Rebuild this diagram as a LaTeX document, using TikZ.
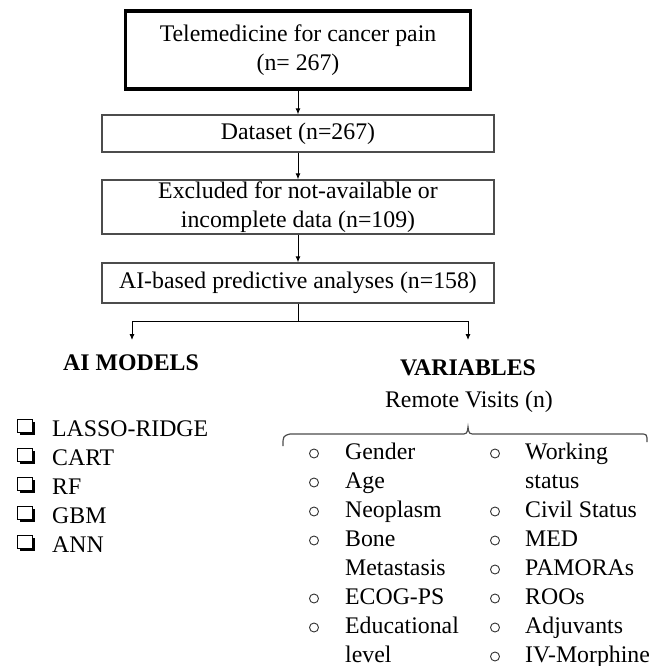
\documentclass[tikz,border=0pt]{standalone}
\usepackage{fontspec}
\setmainfont{Liberation Serif}
\usepackage{tikz}
\usetikzlibrary{arrows.meta,shadows}
\newcommand{\bodysize}{\fontsize{23.8}{29}\selectfont}

\begin{document}
\begin{tikzpicture}[
    x=1pt,y=-1pt,
    >=Latex,
    box/.style={draw=black!70,line width=1.3pt,minimum width=392pt,
      inner sep=0pt,align=center,font=\bodysize},
    topbox/.style={box,draw=black,line width=3.5pt,minimum width=345pt},
    flow/.style={-{Latex[length=6pt,width=5pt]},line width=0.9pt},
    plain/.style={line width=0.9pt},
    heading/.style={font=\bodysize\bfseries,anchor=base,inner sep=0pt},
    item/.style={font=\bodysize,anchor=base west,inner sep=0pt},
    bullet/.style={circle,draw=black!80,line width=0.9pt,minimum size=9pt,inner sep=0pt},
    chkbox/.style={draw=black,line width=1pt,fill=white,minimum width=15pt,
      minimum height=13pt,inner sep=0pt,
      drop shadow={shadow xshift=2.5pt,shadow yshift=-2.5pt,fill=black,opacity=1}},
    bracket/.style={draw=black!70,line width=1.2pt},
  ]
    \useasboundingbox (0,0) rectangle (649,666);

    % flow of the study
    \node[topbox,minimum height=78pt] (tele) at (298,50) {Telemedicine for cancer pain\\(n= 267)};
    \node[box,minimum height=37pt] (data) at (298,133.5) {Dataset (n=267)};
    \node[box,minimum height=54pt] (excl) at (298,207) {Excluded for not-available or\\incomplete data (n=109)};
    \node[box,minimum height=40pt] (ai) at (298,283) {AI-based predictive analyses (n=158)};
    \draw[flow] (tele) -- (data);
    \draw[flow] (data) -- (excl);
    \draw[flow] (excl) -- (ai);

    \coordinate (split) at (298,321);
    \coordinate (tipL) at (132,340);
    \coordinate (tipR) at (468,340);
    \draw[plain] (ai) -- (split);
    \draw[flow] (split) -| (tipL);
    \draw[flow] (split) -| (tipR);

    \node[heading] (models) at (131,370) {AI MODELS};
    \node[heading] (vars) at (468,375) {VARIABLES};
    \node[font=\bodysize,anchor=base,inner sep=0pt] (remote) at (469,407) {Remote Visits (n)};

    % models
    \node[chkbox] (chk1) at (25,425.5) {};
    \node[item] (lasso) at (52,436) {LASSO-RIDGE};
    \node[chkbox] (chk2) at (25,454.5) {};
    \node[item] (cart) at (52,465) {CART};
    \node[chkbox] (chk3) at (25,483.5) {};
    \node[item] (rf) at (52,494) {RF};
    \node[chkbox] (chk4) at (25,512.5) {};
    \node[item] (gbm) at (52,523) {GBM};
    \node[chkbox] (chk5) at (25,541.5) {};
    \node[item] (ann) at (52,552) {ANN};

    % bracket under remote visits
    \draw[bracket] (283,446) .. controls (283,436) .. (290,434) -- (460,434)
      .. controls (467,434) .. (468,427) .. controls (469,434) .. (476,434)
      -- (640,434) .. controls (647,434) .. (647,442);

    % variables, first column
    \node[bullet] (b1) at (314,453.5) {};
    \node[item] (gender) at (345,459) {Gender};
    \node[bullet] (b2) at (314,482.5) {};
    \node[item] (age) at (345,488) {Age};
    \node[bullet] (b3) at (314,511.5) {};
    \node[item] (neo) at (345,517) {Neoplasm};
    \node[bullet] (b4) at (314,540.5) {};
    \node[item] (bone) at (345,546) {Bone};
    \node[item] (meta) at (345,575) {Metastasis};
    \node[bullet] (b5) at (314,598.5) {};
    \node[item] (ecog) at (345,604) {ECOG-PS};
    \node[bullet] (b6) at (314,627.5) {};
    \node[item] (edu) at (345,633) {Educational};
    \node[item] (level) at (345,662) {level};

    % variables, second column
    \node[bullet] (c1) at (495,453.5) {};
    \node[item] (work) at (525,459) {Working};
    \node[item] (status) at (525,488) {status};
    \node[bullet] (c2) at (495,511.5) {};
    \node[item] (civil) at (525,517) {Civil Status};
    \node[bullet] (c3) at (495,540.5) {};
    \node[item] (med) at (525,546) {MED};
    \node[bullet] (c4) at (495,569.5) {};
    \node[item] (pamora) at (525,575) {PAMORAs};
    \node[bullet] (c5) at (495,598.5) {};
    \node[item] (roo) at (525,604) {ROOs};
    \node[bullet] (c6) at (495,627.5) {};
    \node[item] (adj) at (525,633) {Adjuvants};
    \node[bullet] (c7) at (495,656.5) {};
    \node[item] (ivm) at (525,662) {IV-Morphine};
  \end{tikzpicture}
\end{document}
